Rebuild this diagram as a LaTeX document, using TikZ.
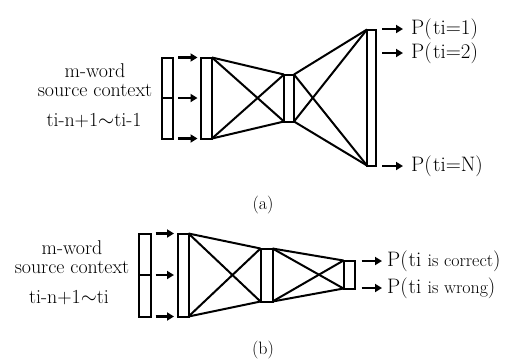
\documentclass[tikz,border=0pt]{standalone}
\usetikzlibrary{arrows.meta}
\begin{document}
\begin{tikzpicture}[x=1bp,y=-1bp,
  every node/.style={font=\fontsize{20}{22}\selectfont},
  layer/.style={draw,line width=2bp,inner sep=0,outer sep=0,minimum width=#1},
  layer/.default=11bp,
  link/.style={line width=2bp},
  feed/.style={line width=2.6bp,-{Triangle[length=7bp,width=8bp]}},
  ctx/.style={align=center,inner sep=0,font=\fontsize{20}{19.5}\selectfont},
  prob/.style={anchor=west,inner sep=1bp,font=\fontsize{21}{23}\selectfont}]
\useasboundingbox (0,0) rectangle (519,363);
% (a) language model
\node[layer,minimum height=81bp] (in_a) at (167.5,98) {};
\draw[link] (in_a.west) -- (in_a.east);
\node[layer,minimum height=81bp] (h1_a) at (206.5,98) {};
\node[layer=10bp,minimum height=47bp] (h2_a) at (289,98) {};
\node[layer=9bp,minimum height=136bp] (out_a) at (371.5,97.5) {};
\foreach \s/\t in {north east/north west,east/west,south east/south west}
  \draw[feed,shorten <=5bp,shorten >=3.5bp] (in_a.\s) -- (h1_a.\t);
\foreach \s in {north east,south east}
  \foreach \t in {north west,south west}
    {\draw[link] (h1_a.\s) -- (h2_a.\t);
     \draw[link] (h2_a.\s) -- (out_a.\t);}
\node[ctx] (ctx_a) at (95,80) {m-word\\source context};
\node (win_a) at (94,121) {ti-n+1$\sim$ti-1};
\node[prob] (p1) at (410,29) {P(\kern1.5bp ti=1)};
\node[prob] (p2) at (410,53) {P(\kern1.5bp ti=2)};
\node[prob] (pn) at (410,166) {P(\kern1.5bp ti=N)};
\foreach \p in {p1,p2,pn}
  \draw[feed,shorten <=6bp,shorten >=7bp] (out_a.east |- \p.west) -- (\p.west);
\node[font=\fontsize{18}{20}\selectfont] (cap_a) at (263,205) {(a)};
% (b) error classifier
\node[layer=12bp,minimum height=83bp] (in_b) at (144.5,275) {};
\draw[link] (in_b.west) -- (in_b.east);
\node[layer,minimum height=83bp] (h1_b) at (183,275) {};
\node[layer=12bp,minimum height=53bp] (h2_b) at (266.5,275) {};
\node[layer,minimum height=28bp] (out_b) at (349,274.5) {};
\foreach \s/\t in {north east/north west,east/west,south east/south west}
  \draw[feed,shorten <=5bp,shorten >=3.5bp] (in_b.\s) -- (h1_b.\t);
\foreach \s in {north east,south east}
  \foreach \t in {north west,south west}
    {\draw[link] (h1_b.\s) -- (h2_b.\t);
     \draw[link] (h2_b.\s) -- (out_b.\t);}
\node[ctx] (ctx_b) at (72,257) {m-word\\source context};
\node (win_b) at (69,298) {ti-n+1$\sim$ti};
\node[prob] (pc) at (386,261) {P(\kern1bp ti {\fontsize{18}{20}\selectfont is correct})};
\node[prob] (pw) at (386,288) {P(\kern1bp ti {\fontsize{18}{20}\selectfont is wrong})};
\foreach \p in {pc,pw}
  \draw[feed,shorten <=7bp,shorten >=4bp] (out_b.east |- \p.west) -- (\p.west);
\node[font=\fontsize{18}{20}\selectfont] (cap_b) at (263,350) {(b)};
\end{tikzpicture}
\end{document}
